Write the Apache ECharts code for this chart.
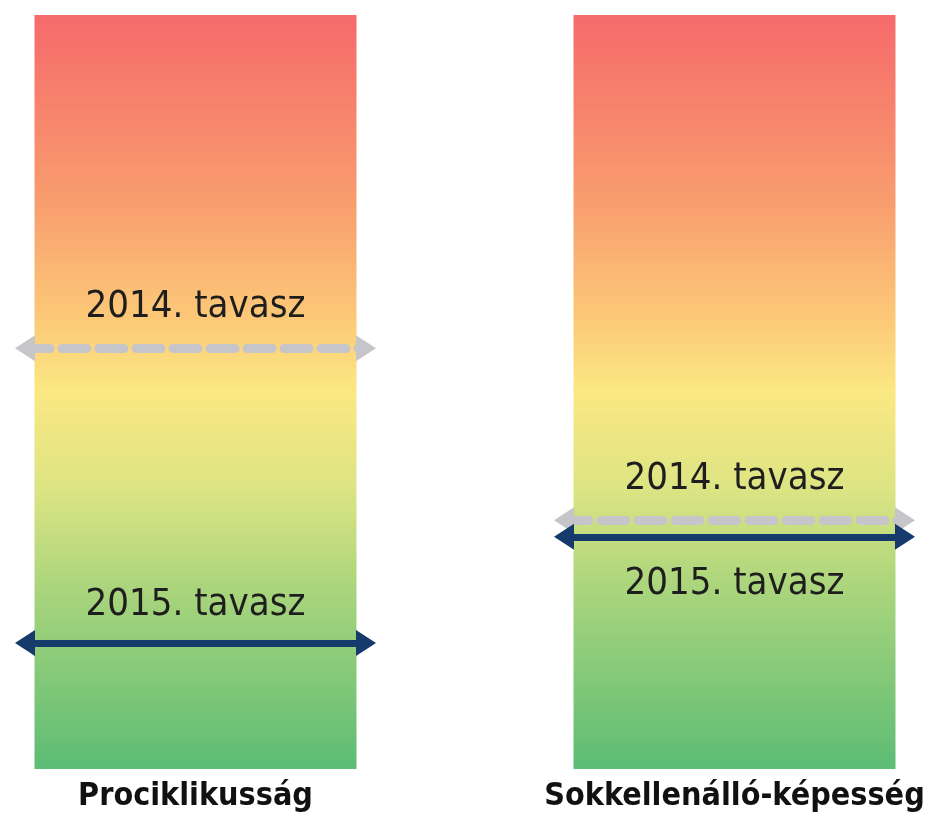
<!DOCTYPE html>
<html>
<head>
<meta charset="utf-8">
<script src="https://cdn.jsdelivr.net/npm/echarts@6/dist/echarts.min.js"></script>
<style>
  html, body { margin: 0; padding: 0; background: #fff; }
  #main { width: 931px; height: 816px; }
</style>
</head>
<body>
<div id="main"></div>
<script>
// panels (one bar each), full scale 0-100
const categories = ["Prociklikusság", "Sokkellenálló-képesség"];
const barValues = [100, 100];
// arrow levels on the 0-100 scale (bottom = 0)
const levels2014 = [55.8, 33.0];
const levels2015 = [16.7, 30.8];
const labels = ["2014. tavasz", "2015. tavasz"];

const chart = echarts.init(document.getElementById("main"));

const gradient = new echarts.graphic.LinearGradient(0, 0, 0, 1, [
  { offset: 0, color: "#f66a6b" },
  { offset: 0.24, color: "#f89b6e" },
  { offset: 0.4, color: "#fcc877" },
  { offset: 0.5, color: "#fbe883" },
  { offset: 0.63, color: "#dce483" },
  { offset: 0.76, color: "#aad57c" },
  { offset: 1, color: "#5cbc75" },
]);

const txt = {
  fontFamily: "DejaVu Sans Condensed, DejaVu Sans",
  fontSize: 38,
  color: "#1e1e1e",
};

// grid edges = arrow line ends; triangles stick out 10px past them
const grids = [
  { left: 25, width: 341, top: 15, bottom: 47 },
  { left: 564, width: 341, top: 15, bottom: 47 },
];

function marks(i) {
  return {
    silent: true,
    symbol: ["triangle", "triangle"],
    symbolSize: [26, 20],
    data: [
      {
        yAxis: levels2014[i],
        lineStyle: { color: "#c6c6ca", width: 9, type: [25, 12], cap: "round" },
        itemStyle: { color: "#c6c6ca" },
        label: {
          show: true,
          formatter: labels[0],
          position: "insideMiddleTop",
          distance: 22,
          ...txt,
        },
      },
      {
        yAxis: levels2015[i],
        lineStyle: { color: "#163a6b", width: 7, type: "solid" },
        itemStyle: { color: "#163a6b" },
        label: {
          show: true,
          formatter: labels[1],
          position: i === 0 ? "insideMiddleTop" : "insideMiddleBottom",
          distance: i === 0 ? 19 : 28,
          ...txt,
        },
      },
    ],
  };
}

chart.setOption({
  animation: false,
  grid: grids,
  xAxis: grids.map((g, i) => ({
    type: "category",
    gridIndex: i,
    data: [categories[i]],
    axisLine: { show: false },
    axisTick: { show: false },
    axisLabel: {
      margin: 12,
      fontFamily: "DejaVu Sans Condensed, DejaVu Sans",
      fontWeight: "bold",
      fontSize: 32,
      color: "#111",
    },
  })),
  yAxis: grids.map((g, i) => ({
    type: "value",
    gridIndex: i,
    min: 0,
    max: 100,
    show: false,
  })),
  series: grids.map((g, i) => ({
    type: "bar",
    xAxisIndex: i,
    yAxisIndex: i,
    barWidth: 322,
    data: [barValues[i]],
    itemStyle: { color: gradient },
    markLine: marks(i),
  })),
});
</script>
</body>
</html>
